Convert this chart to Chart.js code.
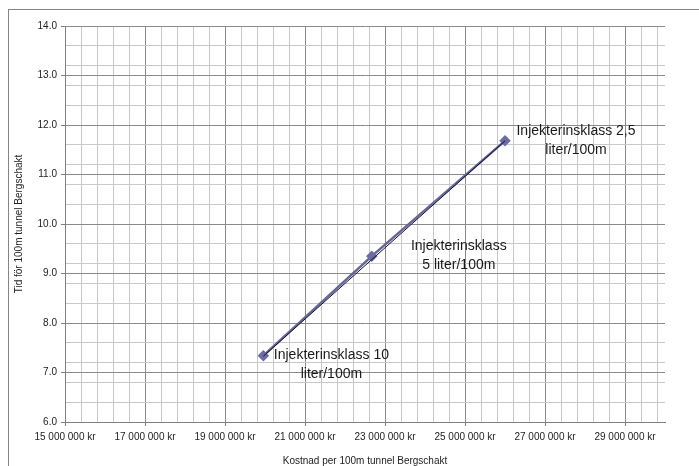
<!DOCTYPE html>
<html>
<head>
<meta charset="utf-8">
<script src="https://cdn.jsdelivr.net/npm/chart.js@4"></script>
<style>
  html, body { margin: 0; padding: 0; background: #fff; }
  #wrap { width: 699px; height: 466px; }
</style>
</head>
<body>
<div id="wrap"><canvas id="cost_chart" width="699" height="466"></canvas></div>
<script>
// data
const costs = [19960000, 22670000, 26000000];
const times = [7.34, 9.35, 11.68];
const classLabels = [
  ['Injekterinsklass 10', 'liter/100m'],
  ['Injekterinsklass', '5 liter/100m'],
  ['Injekterinsklass 2,5', 'liter/100m']
];
// black line drawn from the first to the last point
const trendCosts = [19960000, 26000000];
const trendTimes = [7.33, 11.68];

// where each label sits relative to its point (px)
const labelOffsets = [[68, -1], [87, -10], [71, -10]];

const series = costs.map((c, i) => ({ x: c, y: times[i] }));
const trend = trendCosts.map((c, i) => ({ x: c, y: trendTimes[i] }));

function kr(v) {
  return String(Math.round(v)).replace(/\B(?=(\d{3})+(?!\d))/g, ' ') + ' kr';
}

const isMajorX = v => Math.abs((v - 15000000) % 2000000) < 1;
const isMajorY = v => Math.abs(v - Math.round(v)) < 1e-6;

// frame around the chart, clipped at right and bottom like the original
const framePlugin = {
  id: 'frame',
  beforeDraw(chart) {
    const ctx = chart.ctx;
    ctx.save();
    ctx.fillStyle = '#fff';
    ctx.fillRect(0, 0, chart.width, chart.height);
    ctx.strokeStyle = '#858585';
    ctx.lineWidth = 1;
    ctx.strokeRect(8.5, 9.5, 800, 600);
    ctx.restore();
  }
};

const labelPlugin = {
  id: 'classlabels',
  afterDatasetsDraw(chart) {
    const ctx = chart.ctx;
    const xs = chart.scales.x, ys = chart.scales.y;
    ctx.save();
    ctx.font = '14px "Liberation Sans", Arial, sans-serif';
    ctx.fillStyle = '#1a1a1a';
    ctx.textAlign = 'center';
    ctx.textBaseline = 'middle';
    costs.forEach((c, i) => {
      const px = xs.getPixelForValue(c) + labelOffsets[i][0];
      const py = ys.getPixelForValue(times[i]) + labelOffsets[i][1];
      classLabels[i].forEach((line, j) => ctx.fillText(line, px, py + j * 19));
    });
    ctx.restore();
  }
};

const tickFont = { family: '"Liberation Sans", Arial, sans-serif', size: 10 };

const config = {
  type: 'scatter',
  data: {
    datasets: [{
      data: trend,
      showLine: true,
      borderColor: '#10102a',
      borderWidth: 1,
      pointRadius: 0,
      order: 0
    },
    {
      data: series,
      showLine: true,
      borderColor: '#666699',
      borderWidth: 2.5,
      pointStyle: 'rectRot',
      pointRadius: 4,
      pointBackgroundColor: '#6b6ba6',
      pointBorderColor: '#6b6ba6',
      order: 1
    }]
  },
  options: {
    responsive: false,
    devicePixelRatio: 1,
    animation: false,
    layout: { padding: { top: 26, right: 34, left: 0, bottom: 0 } },
    plugins: { legend: { display: false }, tooltip: { enabled: false } },
    scales: {
      x: {
        type: 'linear',
        min: 15000000,
        max: 30000000,
        afterBuildTicks(scale) {
          const t = [];
          for (let k = 0; k < 38; k++) t.push({ value: 15000000 + k * 400000 });
          scale.ticks = t;
        },
        afterFit(scale) { scale.height = 44; },
        grid: {
          color: c => isMajorX(c.tick.value) ? '#8a8a8a' : '#c8c8c8',
          tickColor: c => isMajorX(c.tick.value) ? '#808080' : 'rgba(0,0,0,0)',
          tickLength: 4
        },
        border: { color: '#808080', width: 1 },
        ticks: {
          autoSkip: false,
          maxRotation: 0,
          padding: 5,
          color: '#222',
          font: tickFont,
          callback: v => isMajorX(v) ? kr(v) : ''
        },
        title: {
          display: true,
          text: 'Kostnad per 100m tunnel Bergschakt',
          color: '#222',
          font: { family: '"Liberation Sans", Arial, sans-serif', size: 10, lineHeight: 1 },
          padding: { top: 0, bottom: 0 }
        }
      },
      y: {
        type: 'linear',
        min: 6,
        max: 14,
        afterBuildTicks(scale) {
          const vals = [];
          for (let k = 0; k <= 20; k++) vals.push(Math.round((6 + k * 0.4) * 100) / 100);
          for (let v = 6; v <= 14; v++) if (!vals.includes(v)) vals.push(v);
          vals.sort((a, b) => a - b);
          scale.ticks = vals.map(v => ({ value: v }));
        },
        afterFit(scale) { scale.width = 65; },
        grid: {
          color: c => isMajorY(c.tick.value) ? '#8a8a8a' : '#c8c8c8',
          tickColor: c => isMajorY(c.tick.value) ? '#808080' : 'rgba(0,0,0,0)',
          tickLength: 4
        },
        border: { color: '#808080', width: 1 },
        ticks: {
          autoSkip: false,
          padding: 4,
          color: '#222',
          font: tickFont,
          callback: v => isMajorY(v) ? v.toFixed(1) : ''
        },
        title: {
          display: true,
          text: 'Tid för 100m tunnel Bergschakt',
          color: '#222',
          font: { family: '"Liberation Sans", Arial, sans-serif', size: 10, lineHeight: 1 },
          padding: { top: 14, bottom: 0 }
        }
      }
    }
  },
  plugins: [framePlugin, labelPlugin]
};

const costChart = new Chart(document.getElementById('cost_chart'), config);
</script>
</body>
</html>
